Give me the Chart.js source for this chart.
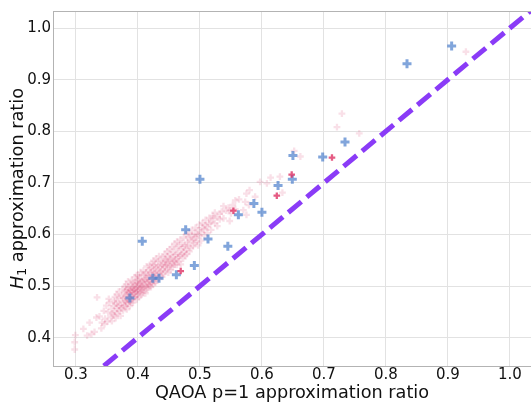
<!DOCTYPE html>
<html>
<head>
<meta charset="utf-8">
<script src="https://cdn.jsdelivr.net/npm/chart.js@4"></script>
<style>
  html, body { margin: 0; padding: 0; background: #fff; }
  canvas { display: block; }
</style>
</head>
<body>
<canvas id="scatter-chart" width="531" height="405"></canvas>
<script>
// tick labels
const xTicks = [0.3, 0.4, 0.5, 0.6, 0.7, 0.8, 0.9, 1.0];
const yTicks = [0.4, 0.5, 0.6, 0.7, 0.8, 0.9, 1.0];

// instances: [QAOA p=1 ratio, H1 ratio]
const pinkPoints = [
  [0.298,0.377],[0.298,0.391],[0.299,0.405],[0.312,0.417],[0.318,0.404],[0.322,0.429],[0.325,0.407],[0.330,0.411],[0.333,0.439],[0.334,0.478],
  [0.338,0.441],[0.341,0.418],[0.342,0.429],[0.345,0.452],[0.346,0.426],[0.347,0.437],[0.349,0.462],[0.351,0.431],[0.352,0.449],[0.353,0.475],
  [0.354,0.468],[0.356,0.440],[0.357,0.456],[0.358,0.432],[0.359,0.447],
  [0.361,0.462],[0.361,0.443],[0.361,0.471],[0.363,0.451],[0.363,0.479],[0.364,0.466],[0.364,0.438],[0.366,0.457],[0.366,0.484],[0.367,0.446],
  [0.367,0.470],[0.369,0.461],[0.369,0.489],[0.370,0.452],[0.370,0.476],[0.372,0.463],[0.372,0.442],[0.373,0.481],[0.373,0.457],[0.375,0.468],
  [0.375,0.494],[0.376,0.453],[0.376,0.477],[0.378,0.486],[0.378,0.462],[0.379,0.471],[0.379,0.499],
  [0.380,0.478],[0.380,0.460],[0.380,0.491],[0.381,0.469],[0.381,0.503],[0.382,0.484],[0.382,0.455],[0.383,0.474],[0.383,0.493],[0.384,0.488],
  [0.384,0.466],[0.384,0.509],[0.385,0.479],[0.385,0.497],[0.386,0.470],[0.386,0.486],[0.387,0.492],[0.387,0.461],[0.388,0.482],[0.388,0.503],
  [0.388,0.474],[0.389,0.490],[0.389,0.468],[0.390,0.481],[0.390,0.497],[0.390,0.512],[0.391,0.475],[0.391,0.489],[0.392,0.494],[0.392,0.468],
  [0.392,0.506],[0.393,0.485],[0.393,0.499],[0.394,0.477],[0.394,0.492],[0.395,0.503],[0.395,0.486],[0.395,0.517],[0.396,0.479],[0.396,0.495],
  [0.397,0.508],[0.397,0.488],[0.398,0.474],[0.398,0.497],[0.398,0.521],[0.399,0.490],[0.399,0.505],
  [0.400,0.499],[0.400,0.484],[0.400,0.512],[0.401,0.491],[0.401,0.520],[0.402,0.503],[0.402,0.479],[0.403,0.496],[0.403,0.514],[0.404,0.488],
  [0.404,0.506],[0.404,0.527],[0.405,0.499],[0.405,0.482],[0.406,0.510],[0.406,0.493],[0.407,0.521],[0.407,0.500],[0.408,0.487],[0.408,0.508],
  [0.409,0.497],[0.409,0.530],[0.410,0.513],[0.410,0.491],[0.411,0.502],[0.411,0.522],[0.412,0.486],[0.412,0.511],[0.413,0.526],[0.413,0.499],
  [0.414,0.515],[0.414,0.538],[0.415,0.494],[0.415,0.507],[0.416,0.520],[0.416,0.503],[0.417,0.531],[0.417,0.497],[0.418,0.509],[0.418,0.518],
  [0.419,0.541],[0.419,0.502],
  [0.420,0.512],[0.420,0.527],[0.421,0.498],[0.421,0.535],[0.422,0.521],[0.422,0.506],[0.423,0.543],[0.423,0.514],[0.424,0.503],[0.424,0.528],
  [0.425,0.519],[0.425,0.549],[0.426,0.510],[0.426,0.533],[0.427,0.525],[0.427,0.541],[0.428,0.506],[0.428,0.518],[0.429,0.536],[0.429,0.553],
  [0.430,0.522],[0.430,0.511],[0.432,0.530],[0.432,0.547],[0.433,0.515],[0.433,0.539],[0.434,0.558],[0.434,0.526],[0.436,0.520],[0.436,0.537],
  [0.437,0.549],[0.437,0.529],[0.439,0.541],[0.439,0.518],
  [0.440,0.532],[0.440,0.556],[0.441,0.544],[0.441,0.523],[0.443,0.536],[0.443,0.562],[0.444,0.528],[0.444,0.548],[0.445,0.552],[0.445,0.541],
  [0.447,0.533],[0.447,0.567],[0.448,0.546],[0.448,0.558],[0.449,0.526],[0.449,0.540],[0.451,0.553],[0.451,0.571],[0.452,0.538],[0.452,0.549],
  [0.453,0.562],[0.453,0.531],[0.455,0.544],[0.455,0.576],[0.456,0.556],[0.456,0.537],[0.458,0.566],[0.458,0.549],[0.459,0.541],[0.459,0.582],
  [0.460,0.560],[0.460,0.547],[0.462,0.573],[0.462,0.552],[0.463,0.541],[0.463,0.586],[0.465,0.563],[0.465,0.556],[0.466,0.578],[0.466,0.548],
  [0.468,0.559],[0.468,0.590],[0.469,0.571],[0.469,0.542],[0.471,0.562],[0.471,0.582],[0.473,0.553],[0.473,0.575],[0.474,0.594],[0.474,0.566],
  [0.476,0.578],[0.476,0.559],[0.478,0.570],[0.478,0.601],[0.479,0.585],[0.479,0.562],
  [0.481,0.579],[0.481,0.594],[0.483,0.567],[0.483,0.603],[0.485,0.588],[0.485,0.574],[0.487,0.596],[0.487,0.609],[0.489,0.577],[0.489,0.590],
  [0.491,0.601],[0.491,0.583],[0.493,0.613],[0.493,0.594],[0.495,0.586],[0.495,0.600],[0.497,0.608],[0.497,0.579],[0.499,0.597],[0.499,0.619],
  [0.502,0.604],[0.502,0.588],[0.504,0.612],[0.504,0.622],[0.507,0.598],[0.507,0.610],[0.509,0.618],[0.509,0.628],[0.512,0.603],[0.512,0.614],
  [0.515,0.621],[0.515,0.632],[0.518,0.609],[0.518,0.624],[0.521,0.636],[0.521,0.631],[0.524,0.622],[0.524,0.642],[0.528,0.633],[0.528,0.616],
  [0.532,0.640],[0.532,0.629],[0.535,0.644],[0.538,0.631],[0.538,0.655],[0.542,0.646],[0.546,0.652],[0.548,0.626],[0.548,0.646],[0.550,0.641],
  [0.553,0.657],[0.557,0.666],[0.557,0.649],
  [0.563,0.668],[0.570,0.647],[0.573,0.663],[0.575,0.679],[0.575,0.638],[0.579,0.657],[0.580,0.686],[0.589,0.673],[0.597,0.702],[0.608,0.699],
  [0.614,0.710],[0.629,0.712],[0.633,0.681],[0.652,0.762],[0.662,0.751],
  [0.721,0.808],[0.729,0.834],[0.757,0.796],[0.929,0.954]
];
const redPoints = [
  [0.469,0.529],[0.554,0.646],[0.624,0.675],[0.648,0.716],[0.713,0.749]
];
const bluePoints = [
  [0.387,0.477],[0.424,0.515],[0.434,0.515],[0.407,0.587],[0.462,0.522],[0.491,0.540],[0.477,0.609],[0.513,0.591],[0.545,0.577],[0.500,0.707],
  [0.562,0.638],[0.587,0.660],[0.600,0.643],[0.626,0.695],[0.649,0.707],[0.650,0.753],[0.698,0.750],[0.734,0.779],[0.834,0.931],[0.906,0.965]
];
// y = x reference line
const diagonal = [0.345, 1.1];

const toXY = arr => arr.map(p => ({x: p[0], y: p[1]}));

const frameAndTitles = {
  id: 'frameAndTitles',
  afterDraw(chart) {
    const {ctx, chartArea: a} = chart;
    ctx.save();
    ctx.strokeStyle = '#b3b3b3';
    ctx.lineWidth = 1;
    ctx.strokeRect(a.left + 0.5, a.top + 0.5, a.right - a.left, a.bottom - a.top);

    ctx.fillStyle = '#111';
    ctx.textBaseline = 'alphabetic';
    // x title
    ctx.font = '17.7px "DejaVu Sans"';
    ctx.textAlign = 'center';
    ctx.fillText('QAOA p=1 approximation ratio', (a.left + a.right) / 2, 397.5);

    // y title: italic H with subscript 1
    const big = '17.7px "DejaVu Sans"', it = 'italic 17.7px "DejaVu Sans"', sub = '12.4px "DejaVu Sans"';
    const rest = ' approximation ratio';
    ctx.textAlign = 'left';
    ctx.font = it; const wH = ctx.measureText('H').width;
    ctx.font = sub; const w1 = ctx.measureText('1').width;
    ctx.font = big; const wR = ctx.measureText(rest).width;
    const total = wH + w1 + wR;
    ctx.translate(22.5, (a.top + a.bottom) / 2);
    ctx.rotate(-Math.PI / 2);
    let x = -total / 2;
    ctx.font = it; ctx.fillText('H', x, 0); x += wH;
    ctx.font = sub; ctx.fillText('1', x, 3.5); x += w1;
    ctx.font = big; ctx.fillText(rest, x, 0);
    ctx.restore();
  }
};

const ctx = document.getElementById('scatter-chart');
const myChart = new Chart(ctx, {
  type: 'scatter',
  data: {
    datasets: [
      {
        label: 'y = x',
        data: diagonal.map(v => ({x: v, y: v})),
        showLine: true,
        borderColor: '#8a3bf7',
        borderWidth: 5,
        borderDash: [17, 7],
        pointRadius: 0,
        clip: 0
      },
      {
        label: 'red',
        data: toXY(redPoints),
        pointStyle: 'cross',
        pointRadius: 3.3,
        borderWidth: 2.3,
        borderColor: 'rgba(222,50,100,0.8)'
      },
      {
        label: 'blue',
        data: toXY(bluePoints),
        pointStyle: 'cross',
        pointRadius: 4.5,
        borderWidth: 3,
        borderColor: 'rgba(80,130,205,0.72)'
      },
      {
        label: 'pink',
        data: toXY(pinkPoints),
        pointStyle: 'cross',
        pointRadius: 3.4,
        borderWidth: 2.3,
        borderColor: 'rgba(222,70,120,0.17)'
      }
    ]
  },
  options: {
    responsive: false,
    animation: false,
    devicePixelRatio: 1,
    layout: { autoPadding: false, padding: { top: 8, right: 0, bottom: 0, left: 0 } },
    plugins: { legend: { display: false }, tooltip: { enabled: false } },
    scales: {
      x: {
        type: 'linear',
        min: 0.263,
        max: 1.034,
        afterBuildTicks: s => { s.ticks = xTicks.map(v => ({value: v})); },
        afterFit: s => { s.height = 39; },
        ticks: {
          padding: 0,
          color: '#111',
          font: { family: 'DejaVu Sans', size: 15 },
          callback: v => v.toFixed(1)
        },
        grid: { color: '#e2e2e2', drawTicks: false },
        border: { display: false }
      },
      y: {
        type: 'linear',
        min: 0.345,
        max: 1.033,
        afterBuildTicks: s => { s.ticks = yTicks.map(v => ({value: v})); },
        afterFit: s => { s.width = 53; },
        ticks: {
          padding: 2,
          color: '#111',
          font: { family: 'DejaVu Sans', size: 15 },
          callback: v => v.toFixed(1)
        },
        grid: { color: '#e2e2e2', drawTicks: false },
        border: { display: false }
      }
    }
  },
  plugins: [frameAndTitles]
});
</script>
</body>
</html>
